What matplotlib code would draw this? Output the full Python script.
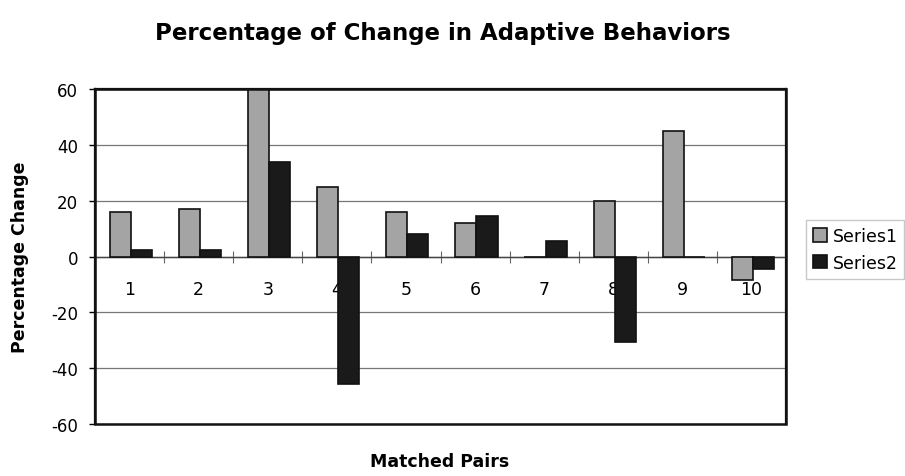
import matplotlib
matplotlib.use("Agg")
import matplotlib.pyplot as plt
from matplotlib.patches import Rectangle
import numpy as np

plt.rcParams['font.family'] = ['DejaVu Sans']

categories = ['1', '2', '3', '4', '5', '6', '7', '8', '9', '10']
series1 = [16, 17, 60, 25, 16, 12, 0, 20, 45, -8.5]
series2 = [2.5, 2.5, 34, -45.5, 8, 14.5, 5.5, -30.5, 0, -4.5]
yticks = [-60, -40, -20, 0, 20, 40, 60]

fig = plt.figure(figsize=(9.05, 4.77), dpi=100)
ax = fig.add_axes([0.105, 0.109, 0.7635, 0.702])

x = np.arange(len(categories))
w = 0.305
ax.bar(x - w/2 + 0.02, series1, w, color='#a4a4a4', edgecolor='#111111', linewidth=1.2,
       label='Series1', zorder=3)
ax.bar(x + w/2 + 0.02, series2, w, color='#1a1a1a', edgecolor='#111111', linewidth=1.2,
       label='Series2', zorder=3)

ax.set_xlim(-0.5, len(categories) - 0.5)
ax.set_ylim(-60, 60)
ax.set_yticks(yticks)
ax.set_yticklabels([str(v) for v in yticks], fontsize=12)
ax.yaxis.grid(True, color='#777777', linewidth=0.9, zorder=0)
ax.tick_params(axis='y', direction='out', length=4, width=1, pad=8)

# x axis along zero
ax.spines['bottom'].set_position(('data', 0))
ax.spines['bottom'].set_color('#444444')
ax.spines['bottom'].set_linewidth(1)
ax.set_xticks(x)
ax.set_xticklabels(categories, fontsize=12.5)
ax.set_xticks(np.arange(-0.5, len(categories) - 0.4, 1)[1:-1], minor=True)
ax.tick_params(axis='x', which='major', length=0, pad=17)
ax.tick_params(axis='x', which='minor', direction='inout', length=8, width=0.8, color='#666666')
for s in ['top', 'right', 'left']:
    ax.spines[s].set_linewidth(1.6)
    ax.spines[s].set_color('#111111')
ax.add_patch(Rectangle((0, 0), 1, 1, transform=ax.transAxes, fill=False,
                       edgecolor='#111111', linewidth=1.8, zorder=5, clip_on=False))

fig.text(0.489, 0.93, 'Percentage of Change in Adaptive Behaviors', ha='center',
         va='center', fontsize=16.5, fontweight='bold')
fig.text(0.022, 0.46, 'Percentage Change', rotation=90, ha='center', va='center',
         fontsize=12.5, fontweight='bold')
fig.text(0.486, 0.031, 'Matched Pairs', ha='center', va='center',
         fontsize=12.5, fontweight='bold')

leg = fig.legend(loc='center left', bbox_to_anchor=(0.891, 0.475), fontsize=12.5,
                 frameon=True, fancybox=False, edgecolor='#bbbbbb',
                 handlelength=0.8, handleheight=0.8, handletextpad=0.3,
                 borderpad=0.4, labelspacing=0.5, borderaxespad=0)

fig.savefig('out.png', dpi=100, facecolor='white')
